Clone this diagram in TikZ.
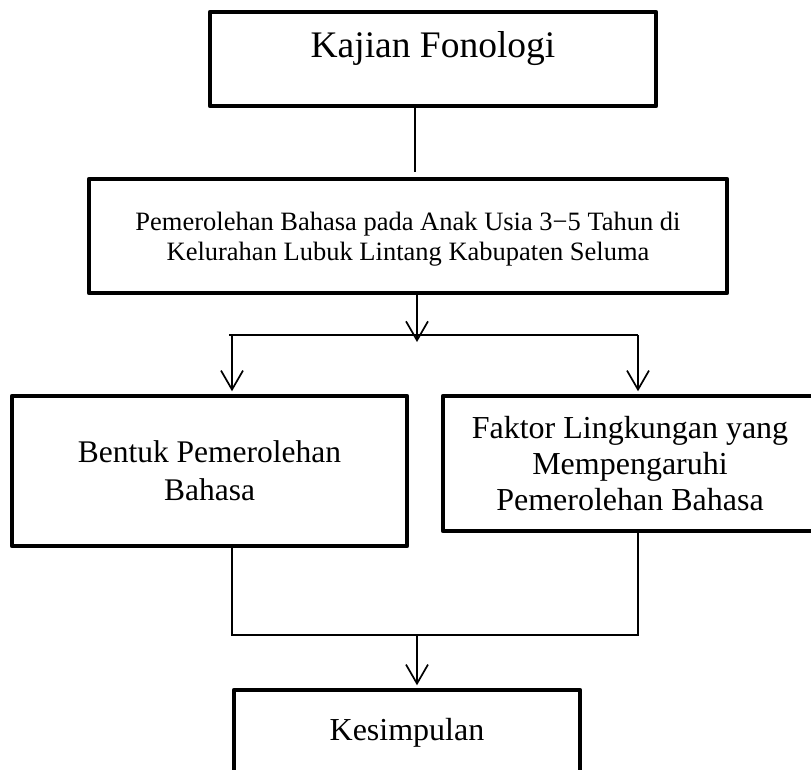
\documentclass[tikz,border=0pt]{standalone}
\usepackage{fontspec}
\setmainfont{Liberation Serif}
\usetikzlibrary{arrows.meta,calc}
\begin{document}
\begin{tikzpicture}[x=1pt,y=-1pt,
  box/.style={draw,line width=4.5pt,line join=round,inner sep=0pt,align=center},
  conn/.style={line width=1.7pt},
  arr/.style={conn,-{Straight Barb[length=19pt,width=22pt]},shorten >=2.5pt}]
\useasboundingbox (0,0) rectangle (811,769);
\clip (0,0) rectangle (811,769);

\node[box,minimum width=446pt,minimum height=94pt,font=\fontsize{37.5}{42}\selectfont,text height=25pt,text depth=29pt] (b1) at (433,59) {Kajian Fonologi};
\node[box,minimum width=638pt,minimum height=114pt,font=\fontsize{26.5}{30}\selectfont] (b2) at (408,236) {\rule{0pt}{24pt}Pemerolehan Bahasa pada Anak Usia 3−5 Tahun di\\Kelurahan Lubuk Lintang Kabupaten Seluma};
\node[box,minimum width=395pt,minimum height=150pt,font=\fontsize{31.5}{38}\selectfont] (b3) at (209.5,471) {Bentuk Pemerolehan\\Bahasa};
\node[box,minimum width=374pt,minimum height=135pt,font=\fontsize{32}{36}\selectfont] (b4) at (630,463.5) {Faktor Lingkungan yang\\Mempengaruhi\\Pemerolehan Bahasa};
\node[box,minimum width=346pt,minimum height=85pt,font=\fontsize{32}{38}\selectfont] (b5) at (407,732.5) {Kesimpulan};

% top connector
\coordinate (t1) at (415,172);
\draw[conn] (b1.south -| t1) -- (t1);

% split
\coordinate (s1) at (417,344.5);
\draw[arr] (b2.south -| s1) -- (s1);
\coordinate (hl) at (229,335);
\coordinate (hr) at (638,335);
\coordinate (la) at (232,335);
\draw[conn] (hl) -- (hr);
\draw[arr] (la) -- (la |- b3.north);
\draw[arr] (hr) -- (hr |- b4.north);

% merge
\coordinate (jl) at (232,635);
\coordinate (jr) at (638,635);
\coordinate (jm) at (417,635);
\draw[conn] (b3.south -| jl) -- (jl) -- (jr) -- (b4.south -| jr);
\draw[arr] (jm) -- (jm |- b5.north);
\end{tikzpicture}
\end{document}
